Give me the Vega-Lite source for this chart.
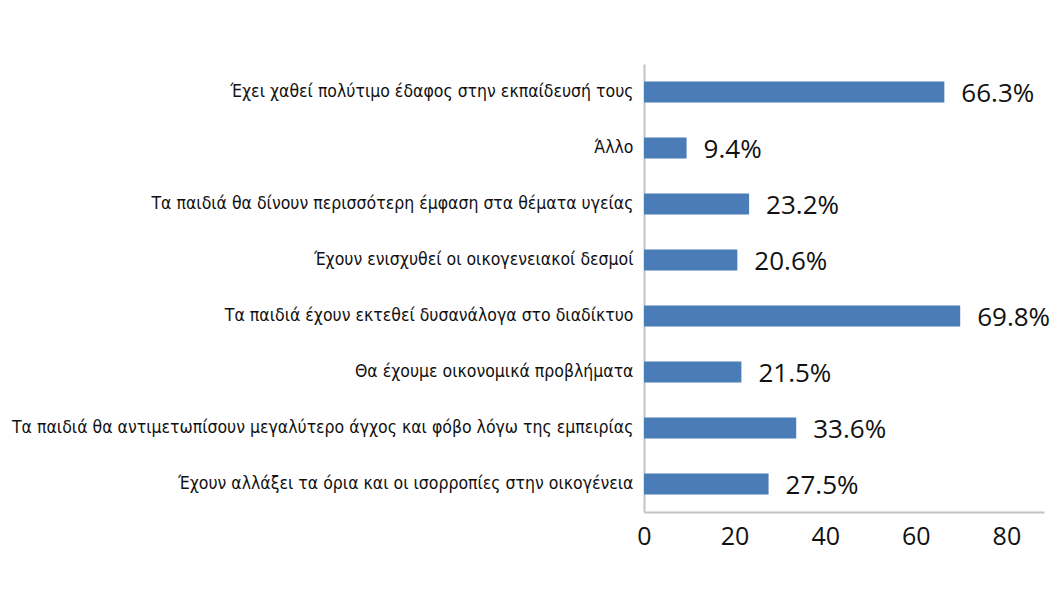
{
  "$schema": "https://vega.github.io/schema/vega-lite/v6.json",
  "autosize": "none",
  "width": 400,
  "height": 448,
  "padding": {"left": 644, "top": 64, "right": 9, "bottom": 92},
  "background": "white",
  "data": {"values": [
    {"cat": "Έχει χαθεί πολύτιμο έδαφος στην εκπαίδευσή τους", "value": 66.3},
    {"cat": "Άλλο", "value": 9.4},
    {"cat": "Τα παιδιά θα δίνουν περισσότερη έμφαση στα θέματα υγείας", "value": 23.2},
    {"cat": "Έχουν ενισχυθεί οι οικογενειακοί δεσμοί", "value": 20.6},
    {"cat": "Τα παιδιά έχουν εκτεθεί δυσανάλογα στο διαδίκτυο", "value": 69.8},
    {"cat": "Θα έχουμε οικονομικά προβλήματα", "value": 21.5},
    {"cat": "Τα παιδιά θα αντιμετωπίσουν μεγαλύτερο άγχος και φόβο λόγω της εμπειρίας", "value": 33.6},
    {"cat": "Έχουν αλλάξει τα όρια και οι ισορροπίες στην οικογένεια", "value": 27.5}
  ]},
  "transform": [{"calculate": "format(datum.value, '.1f') + '%'", "as": "label"}],
  "encoding": {
    "y": {"field": "cat", "type": "nominal", "sort": null,
      "scale": {"paddingInner": 0.625, "paddingOuter": 0.3125},
      "axis": {"title": null, "ticks": false, "domainColor": "#BFC3C8", "domainWidth": 2,
        "labelFont": "DejaVu Sans Condensed", "labelFontSize": 17.5, "labelColor": "#111111",
        "labelPadding": 11, "labelLimit": 0}},
    "x": {"field": "value", "type": "quantitative",
      "scale": {"domain": [0, 88.3], "nice": false, "zero": true},
      "axis": {"title": null, "grid": false, "ticks": false, "values": [0, 20, 40, 60, 80],
        "labelFlush": false, "domainColor": "#BFC3C8", "domainWidth": 2, "labelFont": "Open Sans",
        "labelFontSize": 25, "labelColor": "#111111", "labelPadding": 12}}
  },
  "layer": [
    {"mark": {"type": "bar", "color": "#4A7CB8"}},
    {"mark": {"type": "text", "align": "left", "baseline": "middle", "dx": 17, "dy": 2,
      "font": "Open Sans", "fontSize": 26, "color": "#111111"},
     "encoding": {"text": {"field": "label"}}}
  ],
  "config": {"view": {"stroke": null}}
}
